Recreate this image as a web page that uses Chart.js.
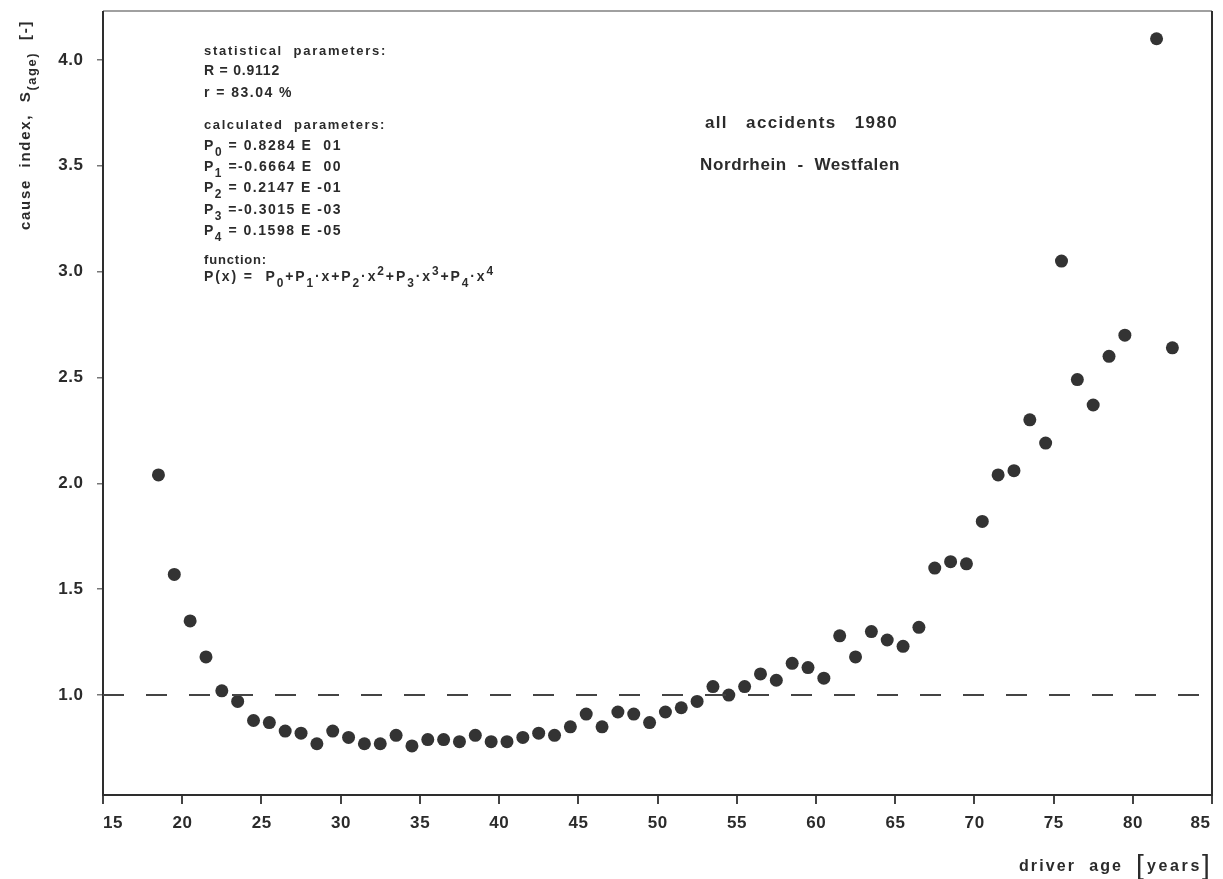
<!DOCTYPE html>
<html>
<head>
<meta charset="utf-8">
<title>cause index by driver age</title>
<script src="https://cdn.jsdelivr.net/npm/chart.js@4.4.0/dist/chart.umd.min.js"></script>
<style>
    html, body { margin: 0; padding: 0; background: #fff; }
    #wrap { width: 1223px; height: 879px; }
</style>
</head>
<body>
<div id="wrap"><canvas id="causeChart" width="1223" height="879"></canvas></div>
<script>
// driver age, plotted at the middle of each year of age (no value for age 80)
const driverAge = [
    18.5, 19.5, 20.5, 21.5, 22.5, 23.5, 24.5, 25.5, 26.5, 27.5,
    28.5, 29.5, 30.5, 31.5, 32.5, 33.5, 34.5, 35.5, 36.5, 37.5,
    38.5, 39.5, 40.5, 41.5, 42.5, 43.5, 44.5, 45.5, 46.5, 47.5,
    48.5, 49.5, 50.5, 51.5, 52.5, 53.5, 54.5, 55.5, 56.5, 57.5,
    58.5, 59.5, 60.5, 61.5, 62.5, 63.5, 64.5, 65.5, 66.5, 67.5,
    68.5, 69.5, 70.5, 71.5, 72.5, 73.5, 74.5, 75.5, 76.5, 77.5,
    78.5, 79.5, 81.5, 82.5
];
// cause index S(age)
const causeIndex = [
    2.04, 1.57, 1.35, 1.18, 1.02, 0.97, 0.88, 0.87, 0.83, 0.82,
    0.77, 0.83, 0.80, 0.77, 0.77, 0.81, 0.76, 0.79, 0.79, 0.78,
    0.81, 0.78, 0.78, 0.80, 0.82, 0.81, 0.85, 0.91, 0.85, 0.92,
    0.91, 0.87, 0.92, 0.94, 0.97, 1.04, 1.00, 1.04, 1.10, 1.07,
    1.15, 1.13, 1.08, 1.28, 1.18, 1.30, 1.26, 1.23, 1.32, 1.60,
    1.63, 1.62, 1.82, 2.04, 2.06, 2.30, 2.19, 3.05, 2.49, 2.37,
    2.60, 2.70, 4.10, 2.64
];
// reference level S = 1
const refAge = [15, 85];
const refIndex = [1.0, 1.0];

const xTicks = [15, 20, 25, 30, 35, 40, 45, 50, 55, 60, 65, 70, 75, 80, 85];
const yTicks = [1.0, 1.5, 2.0, 2.5, 3.0, 3.5, 4.0];

const statLines = ['R = 0.9112', 'r = 83.04 %'];
const paramIndex = ['0', '1', '2', '3', '4'];
const paramValues = ['= 0.8284 E  01', '=-0.6664 E  00', '= 0.2147 E -01', '=-0.3015 E -03', '= 0.1598 E -05'];
const titleLines = ['all   accidents   1980', 'Nordrhein  -  Westfalen'];

const FONT = '"Liberation Sans", Arial, sans-serif';
const INK = '#2b2b2b';

function pieceStyle(p, size) {
    const txt = Array.isArray(p) ? p[0] : p;
    const mode = Array.isArray(p) ? p[1] : 'n';
    const fs = mode === 'n' ? size : size * 0.85;
    const dy = mode === 'sub' ? size * 0.45 : (mode === 'sup' ? -size * 0.4 : 0);
    return { txt, fs, dy };
}

// draws a run of text pieces (plain, subscript, superscript) with letter spacing
function drawRich(ctx, parts, x, y, size, spacing) {
    let cx = x;
    parts.forEach(p => {
        const s = pieceStyle(p, size);
        ctx.font = 'bold ' + s.fs + 'px ' + FONT;
        ctx.letterSpacing = spacing + 'px';
        ctx.fillText(s.txt, cx, y + s.dy);
        cx += ctx.measureText(s.txt).width;
    });
    return cx;
}

// same as drawRich, but spreads the letters so the run is `width` pixels long
function drawFit(ctx, parts, x, y, size, width) {
    let natural = 0, chars = 0;
    ctx.letterSpacing = '0px';
    parts.forEach(p => {
        const s = pieceStyle(p, size);
        ctx.font = 'bold ' + s.fs + 'px ' + FONT;
        natural += ctx.measureText(s.txt).width;
        chars += s.txt.length;
    });
    const spacing = Math.max(0, (width - natural) / chars);
    return drawRich(ctx, parts, x, y, size, spacing);
}

const paperFrame = {
    id: 'paperFrame',
    beforeDatasetsDraw(chart) {
        const { ctx, chartArea: a } = chart;
        ctx.save();
        ctx.lineWidth = 2;
        ctx.strokeStyle = '#a0a0a0';
        ctx.beginPath();
        ctx.moveTo(a.left, a.top);
        ctx.lineTo(a.right, a.top);
        ctx.stroke();
        ctx.strokeStyle = '#2e2e2e';
        ctx.beginPath();
        ctx.moveTo(a.left, a.top);
        ctx.lineTo(a.left, a.bottom);
        ctx.lineTo(a.right, a.bottom);
        ctx.lineTo(a.right, a.top);
        ctx.stroke();
        ctx.restore();
    }
};

const paperText = {
    id: 'paperText',
    afterDraw(chart) {
        const { ctx, chartArea: a } = chart;
        const xs = chart.scales.x;
        const ys = chart.scales.y;
        ctx.save();
        ctx.fillStyle = INK;
        ctx.textBaseline = 'middle';
        ctx.textAlign = 'left';

        // x tick labels, end labels kept inside the frame
        ctx.font = 'bold 17px ' + FONT;
        ctx.letterSpacing = '0.6px';
        xTicks.forEach((v, i) => {
            const px = xs.getPixelForValue(v);
            const w = ctx.measureText(String(v)).width - 0.6;
            let left = px - w / 2;
            if (i === 0) left = px;
            if (i === xTicks.length - 1) left = px - w - 2;
            ctx.fillText(String(v), left, 823);
        });

        // y tick labels
        yTicks.forEach(v => {
            const py = ys.getPixelForValue(v);
            const label = v.toFixed(1);
            const w = ctx.measureText(label).width - 0.6;
            ctx.fillText(label, 83 - w, py);
        });

        // x axis title: driver age [years]
        const right = a.right - 2;
        ctx.font = '28px ' + FONT;
        ctx.letterSpacing = '0px';
        ctx.fillText(']', right - 8, 866);
        drawFit(ctx, ['years'], right - 63, 867, 16, 55);
        ctx.font = '28px ' + FONT;
        ctx.letterSpacing = '0px';
        ctx.fillText('[', right - 74, 866);
        drawFit(ctx, ['driver  age'], right - 191, 867, 16, 104);

        // y axis title, rotated
        ctx.save();
        ctx.translate(26, 230);
        ctx.rotate(-Math.PI / 2);
        drawFit(ctx, ['cause  index,  S', ['(age)', 'sub'], '  [-]'], 0, 0, 15, 210);
        ctx.restore();

        // fit statistics block
        const bx = 204;
        drawFit(ctx, ['statistical  parameters:'], bx, 51, 13, 183);
        drawFit(ctx, [statLines[0]], bx, 71, 14, 76);
        drawFit(ctx, [statLines[1]], bx, 93, 14, 89);
        drawFit(ctx, ['calculated  parameters:'], bx, 125, 13, 182);
        const rowY = [146, 167, 188, 210, 231];
        paramIndex.forEach((k, i) => {
            drawFit(ctx, ['P', [k, 'sub'], ' ' + paramValues[i]], bx, rowY[i], 14, 138);
        });
        drawFit(ctx, ['function:'], bx, 260, 13, 63);
        drawFit(ctx, [
            'P(x) =  P', ['0', 'sub'], '+P', ['1', 'sub'], '\u00b7x+P', ['2', 'sub'], '\u00b7x', ['2', 'sup'],
            '+P', ['3', 'sub'], '\u00b7x', ['3', 'sup'], '+P', ['4', 'sub'], '\u00b7x', ['4', 'sup']
        ], bx, 277, 14, 291);

        // chart title
        drawFit(ctx, [titleLines[0]], 801 - 96, 123, 17, 193);
        drawFit(ctx, [titleLines[1]], 800 - 100, 165, 17, 200);
        ctx.restore();
    }
};

const ctx = document.getElementById('causeChart').getContext('2d');
new Chart(ctx, {
    data: {
        datasets: [{
            type: 'line',
            label: 'S = 1',
            data: refAge.map((a, i) => ({ x: a, y: refIndex[i] })),
            borderColor: '#444',
            borderWidth: 2,
            borderDash: [21, 22],
            pointRadius: 0,
            fill: false
        }, {
            type: 'scatter',
            label: 'cause index',
            data: driverAge.map((a, i) => ({ x: a, y: causeIndex[i] })),
            backgroundColor: '#333',
            borderWidth: 0,
            pointRadius: 6.5,
            pointHoverRadius: 6.5
        }]
    },
    options: {
        responsive: false,
        animation: false,
        layout: {
            padding: { top: 11, right: 11, left: 0, bottom: 0 }
        },
        plugins: {
            legend: { display: false },
            tooltip: { enabled: false }
        },
        scales: {
            x: {
                type: 'linear',
                min: 15,
                max: 85,
                afterBuildTicks: (scale) => { scale.ticks = xTicks.map(v => ({ value: v })); },
                afterFit: (scale) => {
                    scale.height = 84;
                    scale.paddingLeft = 0;
                    scale.paddingRight = 0;
                },
                ticks: { display: false },
                border: { display: false },
                grid: {
                    drawOnChartArea: false,
                    drawTicks: true,
                    tickLength: 9,
                    color: '#444',
                    lineWidth: 2
                }
            },
            y: {
                type: 'linear',
                min: 0.528,
                max: 4.231,
                afterBuildTicks: (scale) => { scale.ticks = yTicks.map(v => ({ value: v })); },
                afterFit: (scale) => {
                    scale.width = 103;
                    scale.paddingTop = 0;
                    scale.paddingBottom = 0;
                },
                ticks: { display: false },
                border: { display: false },
                grid: {
                    drawOnChartArea: false,
                    drawTicks: true,
                    tickLength: 6,
                    color: '#777',
                    lineWidth: 1.5
                }
            }
        }
    },
    plugins: [paperFrame, paperText]
});
</script>
</body>
</html>
